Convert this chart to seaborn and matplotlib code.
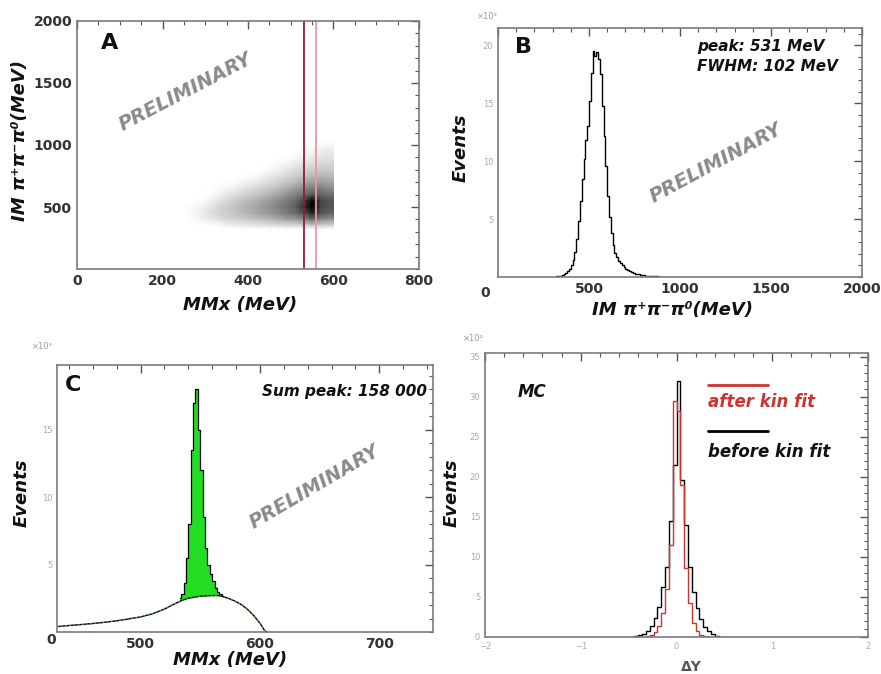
import numpy as np
import pandas as pd
import matplotlib
matplotlib.use("Agg")
import matplotlib.pyplot as plt
from matplotlib.ticker import MultipleLocator
from matplotlib.colors import PowerNorm
import seaborn as sns

sns.set_theme(style="white")
plt.rcParams['font.family'] = ['DejaVu Sans']

# ---------------- data ----------------
# Panel A: 2D density grid (rows: IM values, cols: MMx values)
a_mmx = [250, 270, 290, 310, 330, 350, 370, 390, 410, 430, 450, 470, 490, 510, 530, 550, 570, 590, 600]
a_im = [320, 350, 400, 450, 500, 550, 600, 650, 700, 750, 800, 850, 900, 950, 1000, 1040]
a_density = [
    [0, 0, 0, 0, 0, 0, 0, 0, 0, 0, 0, 0, 0, 0, 0, 0, 0, 0, 0],
    [0, 0, 0, 0, 0, 0.3, 0.5, 0.5, 0.6, 0.7, 0.8, 0.9, 1, 1, 1.2, 1.5, 1.3, 1.2, 1.2],
    [0, 0.1, 0.3, 0.6, 0.9, 1.2, 1.4, 1.6, 1.8, 2, 2.2, 2.5, 2.8, 3, 3.5, 4.5, 3.5, 3.2, 3.2],
    [0, 0.2, 0.5, 0.9, 1.3, 1.6, 1.9, 2.2, 2.5, 2.8, 3.1, 3.5, 4, 4.5, 5.5, 7, 5.5, 5, 5],
    [0, 0.1, 0.3, 0.7, 1.2, 1.6, 2, 2.3, 2.6, 3, 3.3, 3.8, 4.3, 5, 6.5, 9, 6, 5.5, 5.5],
    [0, 0, 0.05, 0.3, 0.8, 1.2, 1.6, 2, 2.3, 2.7, 3, 3.5, 4, 4.7, 6, 8.5, 6, 5.5, 5.5],
    [0, 0, 0, 0.05, 0.3, 0.7, 1.1, 1.4, 1.7, 2, 2.4, 2.8, 3.3, 3.8, 4.5, 5.5, 5, 4.5, 4.5],
    [0, 0, 0, 0, 0.05, 0.2, 0.5, 0.8, 1.1, 1.4, 1.7, 2.1, 2.5, 3, 3.5, 4, 4, 3.5, 3.5],
    [0, 0, 0, 0, 0, 0, 0.1, 0.3, 0.5, 0.8, 1.1, 1.4, 1.8, 2.2, 2.6, 3, 3, 2.8, 2.8],
    [0, 0, 0, 0, 0, 0, 0, 0, 0.1, 0.3, 0.6, 0.9, 1.2, 1.5, 1.9, 2.2, 2.3, 2.2, 2.2],
    [0, 0, 0, 0, 0, 0, 0, 0, 0, 0, 0.2, 0.4, 0.7, 1, 1.3, 1.6, 1.7, 1.7, 1.7],
    [0, 0, 0, 0, 0, 0, 0, 0, 0, 0, 0, 0.1, 0.3, 0.6, 0.8, 1.1, 1.2, 1.3, 1.3],
    [0, 0, 0, 0, 0, 0, 0, 0, 0, 0, 0, 0, 0, 0.2, 0.4, 0.6, 0.8, 0.9, 0.9],
    [0, 0, 0, 0, 0, 0, 0, 0, 0, 0, 0, 0, 0, 0, 0.1, 0.3, 0.5, 0.6, 0.6],
    [0, 0, 0, 0, 0, 0, 0, 0, 0, 0, 0, 0, 0, 0, 0, 0, 0.1, 0.2, 0.2],
    [0, 0, 0, 0, 0, 0, 0, 0, 0, 0, 0, 0, 0, 0, 0, 0, 0, 0, 0],
]
a_cut_lines = [530, 560]

# Panel B: IM pi+pi-pi0 histogram (10 MeV bins, counts x10^3)
b_im = list(range(325, 900, 10))
b_counts = [0.05, 0.08, 0.12, 0.18, 0.25, 0.35, 0.5, 0.7,
            1.0, 1.5, 2.2, 3.3, 4.8, 6.6, 8.5, 10.2, 11.8, 13.0,
            15.2, 17.6, 19.5, 19.1, 19.4, 18.8, 17.5, 14.8, 12.2, 9.6,
            7.0, 5.2, 3.8, 2.8, 2.1, 1.7, 1.4, 1.2, 1.0, 0.85,
            0.7, 0.6, 0.5, 0.42, 0.36, 0.3, 0.26, 0.22, 0.19, 0.16,
            0.14, 0.12, 0.1, 0.09, 0.08, 0.07, 0.06, 0.05, 0.04, 0.03]

# Panel C: MMx background curve and eta peak (counts x10^3)
c_bg_mmx = [430, 440, 450, 460, 470, 480, 490, 500, 510, 520, 530, 535, 540, 550,
            560, 565, 570, 575, 580, 585, 590, 595, 600, 604, 606]
c_bg_counts = [0.40, 0.48, 0.55, 0.63, 0.72, 0.83, 0.97, 1.12, 1.35, 1.7, 2.15, 2.35,
               2.5, 2.65, 2.7, 2.7, 2.6, 2.45, 2.25, 2.0, 1.65, 1.2, 0.65, 0.1, 0.0]
c_peak_mmx = [533, 535, 537, 539, 541, 543, 545, 547, 549, 551, 553, 555, 557, 559,
              561, 563, 565, 567, 569]
c_peak_counts = [2.5, 2.8, 3.6, 5.5, 8.0, 13.5, 17.0, 18.0, 15.0, 12.0, 8.5, 6.2,
                 5.0, 4.3, 3.8, 3.3, 3.0, 2.8, 2.7]
c_peak_bg = [2.2, 2.3, 2.4, 2.45, 2.5, 2.55, 2.6, 2.62, 2.65, 2.67, 2.68, 2.7, 2.7,
             2.7, 2.7, 2.7, 2.68, 2.66, 2.63]

# Panel D: Delta Y (0.04 bins, counts x10^2)
d_dy = [-0.46, -0.42, -0.38, -0.34, -0.30, -0.26, -0.22, -0.18, -0.14, -0.10, -0.06, -0.02,
        0.02, 0.06, 0.10, 0.14, 0.18, 0.22, 0.26, 0.30, 0.34, 0.38, 0.42, 0.46]
d_before = [0.05, 0.1, 0.2, 0.4, 0.8, 1.4, 2.4, 3.8, 6.2, 8.8, 14.5, 21.5,
            32.0, 19.6, 14.0, 8.8, 5.6, 3.6, 2.2, 1.3, 0.7, 0.35, 0.15, 0.05]
d_after = [0, 0, 0.02, 0.05, 0.1, 0.25, 0.6, 1.4, 3.0, 6.0, 11.5, 29.5,
           28.2, 19.0, 8.6, 4.2, 1.8, 0.8, 0.3, 0.1, 0.05, 0.02, 0, 0]

# ---------------- figure ----------------
W, H = 881, 674
fig = plt.figure(figsize=(W / 100, H / 100), dpi=100)
fig.patch.set_facecolor("white")


def add_ax(l, t, r, b):
    return fig.add_axes([l / W, 1 - b / H, (r - l) / W, (b - t) / H])


axA = add_ax(77, 21, 419, 269)
axB = add_ax(498, 28, 862, 277)
axC = add_ax(57, 365, 433, 632)
axD = add_ax(485, 353, 868, 637)

spine_col = "#7a7a7a"
for ax in (axA, axB, axC, axD):
    ax.set_facecolor("white")
    for s in ax.spines.values():
        s.set_color(spine_col)
        s.set_linewidth(1.2)
    ax.tick_params(which="both", direction="in", top=True, right=True,
                   color="#555555")
    ax.tick_params(which="major", length=6, width=1)
    ax.tick_params(which="minor", length=3, width=0.8)

label_kw = dict(fontsize=13, fontweight="bold", fontstyle="italic", color="#111111")
prelim_kw = dict(fontsize=14, fontweight="bold", fontstyle="italic", color="#8a8a8a",
                 ha="center", va="center")

# ---- Panel A ----
axA.pcolormesh(a_mmx, a_im, np.array(a_density), shading="gouraud", cmap="Greys",
               norm=PowerNorm(gamma=0.7, vmin=0, vmax=8.5), rasterized=True)
for xv, c in zip(a_cut_lines, ["#8c1f33", "#e69aa2"]):
    axA.axvline(xv, color=c, lw=1.3)
axA.set_xlim(0, 800)
axA.set_ylim(0, 2000)
axA.xaxis.set_major_locator(MultipleLocator(200))
axA.xaxis.set_minor_locator(MultipleLocator(50))
axA.yaxis.set_major_locator(MultipleLocator(500))
axA.yaxis.set_minor_locator(MultipleLocator(100))
axA.set_yticks([500, 1000, 1500, 2000])
axA.tick_params(axis="both", which="major", labelsize=10, labelcolor="#333333")
for lab in axA.get_xticklabels() + axA.get_yticklabels():
    lab.set_fontweight("bold")
axA.set_xlabel("MMx (MeV)", **label_kw)
axA.set_ylabel("IM π⁺π⁻π⁰(MeV)", **label_kw)
axA.xaxis.set_label_coords(0.477, -0.145)
axA.yaxis.set_label_coords(-0.167, 0.52)
axA.xaxis.label.set_va("center")
axA.yaxis.label.set_va("center")
axA.text(0.096, 0.911, "A", transform=axA.transAxes, fontsize=16, fontweight="bold",
         ha="center", va="center", color="#111111")
axA.text(253, 1427, "PRELIMINARY", rotation=27.6, **prelim_kw)

# ---- Panel B ----
b_df = pd.DataFrame({"im": b_im, "events": b_counts})
b_edges = [float(e) for e in np.arange(320, 901, 10)]
sns.histplot(data=b_df, x="im", weights="events", bins=b_edges, element="step",
             fill=False, color="black", linewidth=1.0, ax=axB)
axB.set_xlim(0, 2000)
axB.set_ylim(0, 21.5)
axB.set_xticks([0, 500, 1000, 1500, 2000])
axB.set_xticklabels(["", "500", "1000", "1500", "2000"])
axB.xaxis.set_minor_locator(MultipleLocator(100))
axB.set_yticks([5, 10, 15, 20])
axB.yaxis.set_minor_locator(MultipleLocator(1))
axB.tick_params(axis="x", labelsize=10, labelcolor="#333333")
for lab in axB.get_xticklabels():
    lab.set_fontweight("bold")
axB.tick_params(axis="y", labelsize=6, labelcolor="#aaaaaa")
axB.set_xlabel("IM π⁺π⁻π⁰(MeV)", **label_kw)
axB.set_ylabel("Events", **label_kw)
axB.xaxis.set_label_coords(0.48, -0.133)
axB.yaxis.set_label_coords(-0.104, 0.518)
axB.xaxis.label.set_va("center")
axB.yaxis.label.set_va("center")
axB.text(-0.035, -0.035, "0", transform=axB.transAxes, fontsize=10, fontweight="bold",
         color="#333333", ha="center", va="top")
axB.text(-0.03, 1.045, "×10³", transform=axB.transAxes, fontsize=6, color="#999999",
         ha="center", va="center")
axB.text(0.069, 0.924, "B", transform=axB.transAxes, fontsize=16, fontweight="bold",
         ha="center", va="center", color="#111111")
axB.text(0.547, 0.924, "peak: 531 MeV", transform=axB.transAxes, fontsize=11,
         fontweight="bold", fontstyle="italic", ha="left", va="center", color="#111111")
axB.text(0.547, 0.847, "FWHM: 102 MeV", transform=axB.transAxes, fontsize=11,
         fontweight="bold", fontstyle="italic", ha="left", va="center", color="#111111")
axB.text(0.60, 0.458, "PRELIMINARY", transform=axB.transAxes, rotation=28.4, **prelim_kw)

# ---- Panel C ----
axC.fill_between(c_peak_mmx, c_peak_counts, c_peak_bg, step="mid",
                 color="#22dd22", linewidth=0)
sns.lineplot(x=c_bg_mmx, y=c_bg_counts, color="black", linewidth=1.0, ax=axC)
sns.lineplot(x=c_bg_mmx, y=c_bg_counts, color="#55cc55", linewidth=0.6,
             linestyle=(0, (2, 3)), ax=axC)
sns.lineplot(x=c_peak_mmx, y=c_peak_counts, color="black", linewidth=0.9,
             drawstyle="steps-mid", ax=axC)
axC.set_xlim(430, 745)
axC.set_ylim(0, 19.8)
axC.set_xticks([500, 600, 700])
axC.xaxis.set_minor_locator(MultipleLocator(20))
axC.set_yticks([5, 10, 15])
axC.yaxis.set_minor_locator(MultipleLocator(1))
axC.tick_params(axis="x", labelsize=10, labelcolor="#333333")
for lab in axC.get_xticklabels():
    lab.set_fontweight("bold")
axC.tick_params(axis="y", labelsize=6, labelcolor="#aaaaaa")
axC.set_xlabel("MMx (MeV)", **label_kw)
axC.set_ylabel("Events", **label_kw)
axC.xaxis.set_label_coords(0.46, -0.105)
axC.yaxis.set_label_coords(-0.093, 0.52)
axC.xaxis.label.set_va("center")
axC.yaxis.label.set_va("center")
axC.text(-0.016, -0.005, "0", transform=axC.transAxes, fontsize=10, fontweight="bold",
         color="#333333", ha="center", va="top")
axC.text(-0.04, 1.07, "×10³", transform=axC.transAxes, fontsize=6, color="#999999",
         ha="center", va="center")
axC.text(0.043, 0.925, "C", transform=axC.transAxes, fontsize=16, fontweight="bold",
         ha="center", va="center", color="#111111")
axC.text(0.984, 0.899, "Sum peak: 158 000", transform=axC.transAxes, fontsize=11,
         fontweight="bold", fontstyle="italic", ha="right", va="center", color="#111111")
axC.text(0.686, 0.543, "PRELIMINARY", transform=axC.transAxes, rotation=30.4, **prelim_kw)

# ---- Panel D ----
d_df = pd.DataFrame({"dy": d_dy, "after": d_after, "before": d_before})
d_edges = [round(e, 3) for e in np.arange(-0.48, 0.481, 0.04)]
sns.histplot(data=d_df, x="dy", weights="before", bins=d_edges, element="step",
             fill=False, color="black", linewidth=1.0, ax=axD)
sns.histplot(data=d_df, x="dy", weights="after", bins=d_edges, element="step",
             fill=False, color="#cc3333", linewidth=1.0, ax=axD)
axD.set_xlim(-2, 2)
axD.set_ylim(0, 35.5)
axD.xaxis.set_major_locator(MultipleLocator(1))
axD.xaxis.set_minor_locator(MultipleLocator(0.2))
axD.yaxis.set_major_locator(MultipleLocator(5))
axD.yaxis.set_minor_locator(MultipleLocator(1))
axD.tick_params(axis="both", labelsize=6, labelcolor="#aaaaaa")
axD.set_xlabel("ΔY", fontsize=10, fontweight="bold", color="#555555")
axD.set_ylabel("Events", **label_kw)
axD.xaxis.set_label_coords(0.54, -0.106)
axD.yaxis.set_label_coords(-0.086, 0.507)
axD.xaxis.label.set_va("center")
axD.yaxis.label.set_va("center")
axD.text(-0.03, 1.05, "×10²", transform=axD.transAxes, fontsize=6, color="#999999",
         ha="center", va="center")
axD.text(0.084, 0.863, "MC", transform=axD.transAxes, fontsize=12, fontweight="bold",
         fontstyle="italic", ha="left", va="center", color="#111111")
axD.plot([0.582, 0.739], [0.887, 0.887], transform=axD.transAxes, color="#cc3333", lw=2)
axD.text(0.582, 0.827, "after kin fit", transform=axD.transAxes, fontsize=12,
         fontweight="bold", fontstyle="italic", ha="left", va="center", color="#cc3333")
axD.plot([0.582, 0.739], [0.725, 0.725], transform=axD.transAxes, color="black", lw=2)
axD.text(0.582, 0.651, "before kin fit", transform=axD.transAxes, fontsize=12,
         fontweight="bold", fontstyle="italic", ha="left", va="center", color="#111111")

fig.savefig("out.png", dpi=100, facecolor="white")
